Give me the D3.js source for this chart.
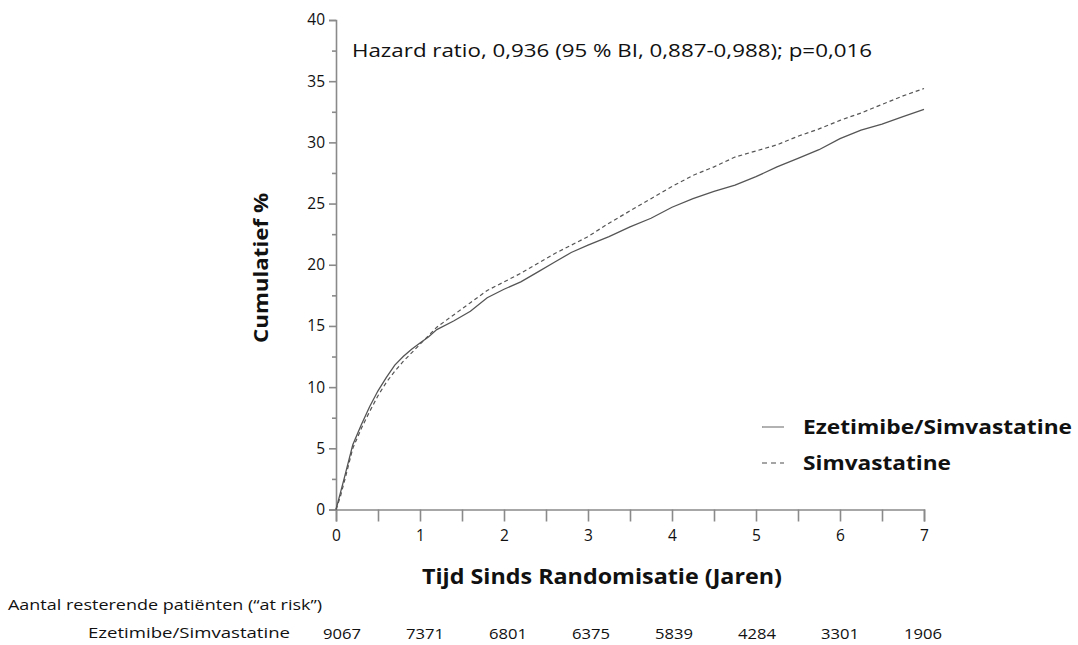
<!DOCTYPE html>
<html>
<head>
<meta charset="utf-8">
<script src="https://cdn.jsdelivr.net/npm/d3@7"></script>
<style>
  body { margin: 0; background: #fff; }
  text { font-family: "Open Sans", "Noto Sans", sans-serif; fill: #111; }
</style>
</head>
<body>
<div id="chart"></div>
<script>
// time grid (years) shared by both curves
var times = [0, 0.05, 0.1, 0.2, 0.3, 0.4, 0.5, 0.6, 0.7, 0.8, 0.9, 1.0, 1.1, 1.2, 1.4, 1.6, 1.8, 2.0,
             2.2, 2.4, 2.6, 2.8, 3.0, 3.25, 3.5, 3.75, 4.0, 4.25, 4.5, 4.75, 5.0, 5.25, 5.5, 5.75,
             6.0, 6.25, 6.5, 6.75, 7.0];
// cumulative % Ezetimibe/Simvastatine (solid)
var ezeValues = [0, 1.3, 2.6, 5.3, 6.9, 8.4, 9.7, 10.8, 11.8, 12.5, 13.1, 13.6, 14.1, 14.7, 15.4, 16.2, 17.3, 18.0,
                 18.6, 19.4, 20.2, 21.0, 21.6, 22.3, 23.1, 23.8, 24.7, 25.4, 26.0, 26.5, 27.2, 28.0, 28.7, 29.4,
                 30.3, 31.0, 31.5, 32.1, 32.7];
// cumulative % Simvastatine (dashed)
var simValues = [0, 1.0, 2.3, 5.0, 6.6, 8.0, 9.3, 10.4, 11.3, 12.1, 12.8, 13.5, 14.2, 14.9, 15.9, 16.9, 17.9, 18.6,
                 19.3, 20.1, 20.9, 21.6, 22.3, 23.4, 24.4, 25.4, 26.4, 27.3, 28.0, 28.8, 29.3, 29.8, 30.5, 31.1,
                 31.8, 32.4, 33.1, 33.8, 34.4];

var seriesNames = ["Ezetimibe/Simvastatine", "Simvastatine"];
var riskYears = [0, 1, 2, 3, 4, 5, 6, 7];
var riskEze = [9067, 7371, 6801, 6375, 5839, 4284, 3301, 1906];
var yTicks = [0, 5, 10, 15, 20, 25, 30, 35, 40];

var W = 1078, H = 645;
var svg = d3.select("#chart").append("svg")
    .attr("width", W)
    .attr("height", H);

var x = d3.scaleLinear().domain([0, 7]).range([336, 924]);
var y = d3.scaleLinear().domain([0, 40]).range([509.5, 20]);

var axisColor = "#8a8a8a";

// y axis: major ticks outward, minor ticks in between
svg.append("g")
    .attr("transform", "translate(336,0)")
    .call(d3.axisLeft(y).tickValues(yTicks).tickSize(7).tickPadding(4));
svg.append("g")
    .attr("transform", "translate(336,0)")
    .call(d3.axisLeft(y).tickValues(d3.range(2.5, 40, 5)).tickSize(4).tickFormat(""))
    .select(".domain").remove();

// x axis: ticks every half year, labels on whole years
svg.append("g")
    .attr("transform", "translate(0,509.5)")
    .call(d3.axisBottom(x).tickValues(d3.range(0, 7.01, 0.5)).tickSize(12).tickPadding(8)
        .tickFormat(function(d) { return d % 1 === 0 ? d : ""; }));

svg.selectAll(".domain").attr("stroke", axisColor).attr("stroke-width", 1.6);
svg.selectAll(".tick line").attr("stroke", axisColor).attr("stroke-width", 1.6);
svg.selectAll(".tick text")
    .style("font-family", "'Open Sans', sans-serif")
    .style("font-size", "15.5px")
    .attr("fill", "#111");

// curves
var line = function(vals) {
    return d3.line()
        .x(function(d, i) { return x(times[i]); })
        .y(function(d) { return y(d); })(vals);
};
svg.append("path")
    .attr("d", line(ezeValues))
    .attr("fill", "none")
    .attr("stroke", "#555")
    .attr("stroke-width", 1.3);
svg.append("path")
    .attr("d", line(simValues))
    .attr("fill", "none")
    .attr("stroke", "#555")
    .attr("stroke-width", 1.2)
    .attr("stroke-dasharray", "4,3");

// annotation
svg.append("text")
    .attr("x", 352).attr("y", 57)
    .attr("textLength", 520).attr("lengthAdjust", "spacingAndGlyphs")
    .style("font-size", "19px")
    .text("Hazard ratio, 0,936 (95 % BI, 0,887-0,988); p=0,016");

// axis titles
svg.append("text")
    .attr("transform", "translate(268,268) rotate(-90)")
    .attr("text-anchor", "middle")
    .attr("textLength", 150).attr("lengthAdjust", "spacingAndGlyphs")
    .style("font-size", "20px").style("font-weight", "bold")
    .text("Cumulatief %");
svg.append("text")
    .attr("x", 422).attr("y", 584)
    .attr("textLength", 360).attr("lengthAdjust", "spacingAndGlyphs")
    .style("font-size", "21px").style("font-weight", "bold")
    .text("Tijd Sinds Randomisatie (Jaren)");

// legend
var legend = svg.append("g").selectAll("g")
    .data(seriesNames)
    .enter().append("g")
    .attr("transform", function(d, i) { return "translate(0," + (427 + i * 36) + ")"; });
legend.append("line")
    .attr("x1", 762).attr("x2", 784)
    .attr("stroke", "#888")
    .attr("stroke-width", 1.3)
    .attr("stroke-dasharray", function(d, i) { return i === 1 ? "5,4" : null; });
legend.append("text")
    .attr("x", 803).attr("y", 7)
    .style("font-size", "20px").style("font-weight", "bold")
    .attr("textLength", function(d, i) { return i === 0 ? 269 : 148; })
    .attr("lengthAdjust", "spacingAndGlyphs")
    .text(function(d) { return d; });

// at risk table
svg.append("text")
    .attr("x", 8).attr("y", 610)
    .attr("textLength", 314).attr("lengthAdjust", "spacingAndGlyphs")
    .style("font-size", "15px")
    .text("Aantal resterende patiënten (\u201Cat risk\u201D)");
svg.append("text")
    .attr("x", 290).attr("y", 638)
    .attr("text-anchor", "end")
    .attr("textLength", 202).attr("lengthAdjust", "spacingAndGlyphs")
    .style("font-size", "15px")
    .text(seriesNames[0]);
svg.append("g").selectAll("text")
    .data(riskEze)
    .enter().append("text")
    .attr("x", function(d, i) { return x(riskYears[i]) + 6 - i; })
    .attr("y", 639)
    .attr("text-anchor", "middle")
    .attr("textLength", 38).attr("lengthAdjust", "spacingAndGlyphs")
    .style("font-size", "15px")
    .text(function(d) { return d; });
</script>
</body>
</html>
